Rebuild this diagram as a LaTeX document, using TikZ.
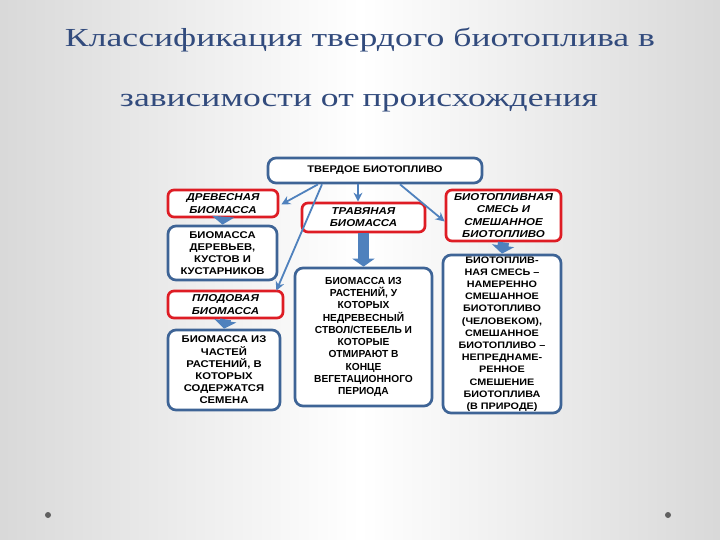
\documentclass[tikz,border=0pt]{standalone}
\usepackage{fontspec}
\usepackage{graphicx}
\setmainfont{Liberation Serif}
\newfontfamily\boxfont[FakeStretch=1.15]{Liberation Sans}
\newfontfamily\boxfontn{Liberation Sans}
\usetikzlibrary{arrows.meta}
\definecolor{bordblue}{RGB}{62,100,150}
\definecolor{arrblue}{RGB}{79,129,189}
\definecolor{boxred}{RGB}{222,28,36}
\definecolor{titleblue}{RGB}{50,75,125}
\tikzset{
  blubox/.style={draw=bordblue, line width=2.7pt, rounded corners=8pt, fill=white, align=center, inner sep=0pt,
    font=\boxfont\bfseries\fontsize{9.8}{12.2}\selectfont},
  redbox/.style={draw=boxred, line width=2.7pt, rounded corners=6pt, fill=white, align=center, inner sep=0pt,
    font=\boxfont\bfseries\itshape\fontsize{10}{12.2}\selectfont},
  thinarrow/.style={draw=arrblue, line width=1.8pt, -{Stealth[length=9pt,width=9pt]}},
  fatarrow/.style={draw=arrblue, line width=11pt, -{Triangle[length=8pt,width=22pt]}},
  titletext/.style={text=titleblue, anchor=base, inner sep=0pt, font=\fontsize{26}{30}\selectfont},
  dotmark/.style={fill=gray!75!black, draw=none, minimum size=6pt, inner sep=0pt, circle}
}
\begin{document}
\begin{tikzpicture}[x=1pt,y=-1pt]
\useasboundingbox (0,0) rectangle (720,540);
\shade[left color=gray!30, right color=gray!30, middle color=white] (0,0) rectangle (720,540);

\node[titletext] (t1) at (360,47) {\resizebox{590pt}{\height}{Классификация твердого биотоплива в}};
\node[titletext] (t2) at (359,107) {\resizebox{478pt}{\height}{зависимости от происхождения}};

\node[dotmark] (d1) at (48,515) {};
\node[dotmark] (d2) at (668,515) {};

\node[blubox, minimum width=214pt, minimum height=25pt, font=\boxfont\bfseries\fontsize{9.6}{12}\selectfont] (top) at (375,170.5) {ТВЕРДОЕ БИОТОПЛИВО};
\node[redbox, minimum width=110pt, minimum height=27pt] (drev) at (223,203.5) {ДРЕВЕСНАЯ\\БИОМАССА};
\node[redbox, minimum width=123pt, minimum height=29pt] (trav) at (363.5,217.5) {ТРАВЯНАЯ\\БИОМАССА};
\node[redbox, minimum width=115pt, minimum height=51pt] (smes) at (503.5,215.5) {БИОТОПЛИВНАЯ\\СМЕСЬ И\\СМЕШАННОЕ\\БИОТОПЛИВО};
\node[blubox, minimum width=109pt, minimum height=54pt] (derev) at (222.5,253) {БИОМАССА\\ДЕРЕВЬЕВ,\\КУСТОВ И\\КУСТАРНИКОВ};
\node[redbox, minimum width=115pt, minimum height=27pt] (plod) at (225.5,304.5) {ПЛОДОВАЯ\\БИОМАССА};
\node[blubox, minimum width=112pt, minimum height=80pt] (chast) at (224,370) {БИОМАССА ИЗ\\ЧАСТЕЙ\\РАСТЕНИЙ, В\\КОТОРЫХ\\СОДЕРЖАТСЯ\\СЕМЕНА};
\node[blubox, minimum width=137pt, minimum height=138pt, font=\boxfontn\bfseries\fontsize{10.2}{12.3}\selectfont] (rast) at (363.5,337) {БИОМАССА ИЗ\\РАСТЕНИЙ, У\\КОТОРЫХ\\НЕДРЕВЕСНЫЙ\\СТВОЛ/СТЕБЕЛЬ И\\КОТОРЫЕ\\ОТМИРАЮТ В\\КОНЦЕ\\ВЕГЕТАЦИОННОГО\\ПЕРИОДА};
\node[blubox, minimum width=118pt, minimum height=158pt, font=\boxfont\bfseries\fontsize{9.4}{12.2}\selectfont] (bio) at (502,334) {БИОТОПЛИВ-\\НАЯ СМЕСЬ –\\НАМЕРЕННО\\СМЕШАННОЕ\\БИОТОПЛИВО\\(ЧЕЛОВЕКОМ),\\СМЕШАННОЕ\\БИОТОПЛИВО –\\НЕПРЕДНАМЕ-\\РЕННОЕ\\СМЕШЕНИЕ\\БИОТОПЛИВА\\(В ПРИРОДЕ)};

\draw[thinarrow] ([xshift=-57pt]top.south) -- ([xshift=2pt,yshift=-1pt]drev.east);
\draw[thinarrow] ([xshift=-53pt]top.south) -- ([xshift=-8pt,yshift=-1pt]plod.north east);
\draw[thinarrow] ([xshift=-17pt]top.south) -- ([xshift=-5.5pt]trav.north);
\draw[thinarrow] ([xshift=25pt]top.south) -- ([yshift=-6pt]smes.west);

\draw[fatarrow] (drev.south) -- (derev.north);
\draw[fatarrow] (plod.south) -- (chast.north);
\draw[fatarrow] (trav.south) -- (rast.north);
\draw[fatarrow] (smes.south) -- (bio.north);
\end{tikzpicture}
\end{document}
